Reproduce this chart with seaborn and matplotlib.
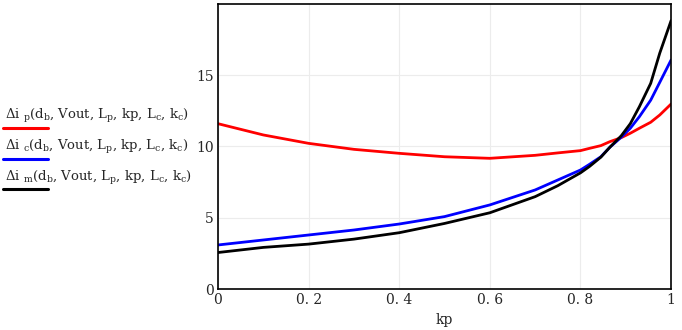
import numpy as np
import pandas as pd
import matplotlib
matplotlib.use('Agg')
import matplotlib.pyplot as plt
from matplotlib.lines import Line2D
import seaborn as sns

# values
kp = [0, 0.1, 0.2, 0.3, 0.4, 0.5, 0.6, 0.7, 0.75, 0.8, 0.82, 0.845, 0.865,
      0.89, 0.91, 0.93, 0.955, 0.975, 1.0]
di_p = [11.60, 10.81, 10.22, 9.80, 9.52, 9.28, 9.17, 9.38, 9.55, 9.71, 9.87, 10.06, 10.34,
        10.62, 10.93, 11.28, 11.70, 12.21, 12.98]
di_c = [3.09, 3.44, 3.79, 4.14, 4.56, 5.08, 5.90, 6.95, 7.65, 8.35, 8.75, 9.28, 9.95,
        10.65, 11.28, 12.09, 13.25, 14.50, 16.07]
di_m = [2.56, 2.92, 3.15, 3.50, 3.95, 4.60, 5.35, 6.48, 7.25, 8.15, 8.60, 9.25, 9.95,
        10.75, 11.60, 12.79, 14.43, 16.55, 18.83]

labels = [r'$\Delta$i $_{\rm p}$(d$_{\rm b}$, Vout, L$_{\rm p}$, kp, L$_{\rm c}$, k$_{\rm c}$)',
          r'$\Delta$i $_{\rm c}$(d$_{\rm b}$, Vout, L$_{\rm p}$, kp, L$_{\rm c}$, k$_{\rm c}$)',
          r'$\Delta$i $_{\rm m}$(d$_{\rm b}$, Vout, L$_{\rm p}$, kp, L$_{\rm c}$, k$_{\rm c}$)']
colors = ['#ff0000', '#0000ff', '#000000']

df = pd.DataFrame({
    'kp': kp * 3,
    'val': di_p + di_c + di_m,
    'series': ['p'] * len(kp) + ['c'] * len(kp) + ['m'] * len(kp),
})

sns.set_style('white')
plt.rcParams['font.family'] = ['DejaVu Serif']
plt.rcParams['mathtext.fontset'] = 'dejavuserif'

fig = plt.figure(figsize=(6.82, 3.30), dpi=100)
ax = fig.add_axes([0.3196, 0.1242, 0.984 - 0.3196, 0.988 - 0.1242])

sns.lineplot(data=df, x='kp', y='val', hue='series', palette=colors,
             linewidth=2, legend=False, ax=ax)

ax.set_xlim(0, 1)
ax.set_ylim(0, 20)
ax.set_xticks([0, 0.2, 0.4, 0.6, 0.8, 1])
ax.set_xticklabels(['0', '0. 2', '0. 4', '0. 6', '0. 8', '1'])
ax.set_yticks([0, 5, 10, 15])
ax.grid(True, color='#ececec', linewidth=0.8)
ax.tick_params(length=0, labelsize=10, pad=3)
ax.set_xlabel('kp', fontsize=10, labelpad=4)
ax.set_ylabel('')
for s in ax.spines.values():
    s.set_color('black')
    s.set_linewidth(1.2)

# left-hand legend: text above a short coloured line
text_y = [119, 150, 181]
line_y = [128, 159, 189]
for lab, c, ty, ly in zip(labels, colors, text_y, line_y):
    fig.text(5 / 682, 1 - ty / 330, lab, fontsize=9.5, va='baseline', ha='left')
    fig.add_artist(Line2D([3 / 682, 48 / 682], [1 - ly / 330, 1 - ly / 330],
                          color=c, linewidth=2.2, transform=fig.transFigure))

plt.savefig('out.png', dpi=100)
